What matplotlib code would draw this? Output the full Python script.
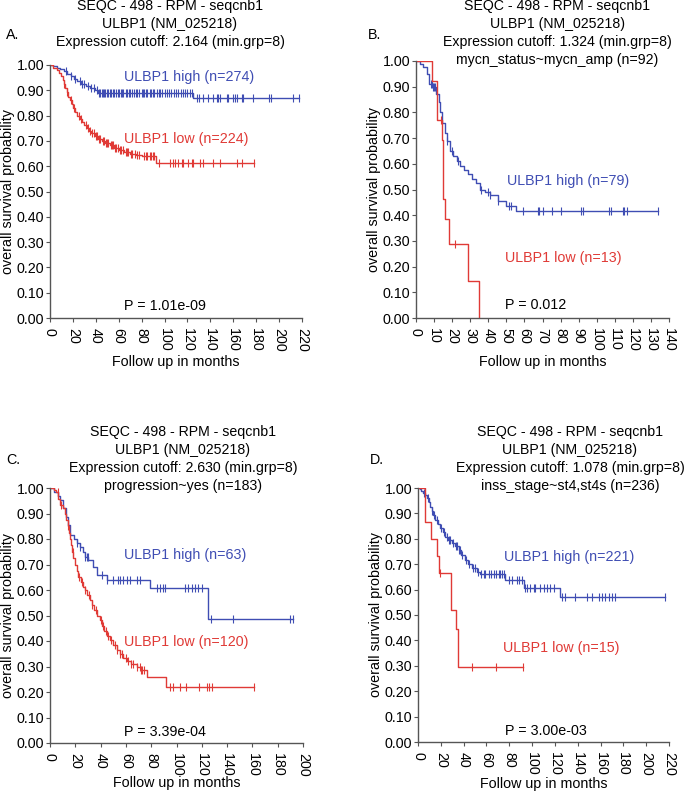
import numpy as np
import matplotlib
matplotlib.use("Agg")
import matplotlib.pyplot as plt

plt.rcParams['font.family'] = ['Liberation Sans', 'DejaVu Sans']

BLUE = '#3f4db3'
RED = '#e03a36'

# ---------------- panel A ----------------
a_hi_t = [3, 6, 9, 12, 15, 18, 21, 24, 27, 31, 35, 39, 42, 125]
a_hi_s = [0.995, 0.99, 0.983, 0.975, 0.965, 0.955, 0.945, 0.935, 0.925, 0.918, 0.91, 0.90, 0.888, 0.868]
a_hi_c = [14, 18, 22, 26, 28, 30, 33, 36, 38, 41, 43, 44, 45, 46, 47, 48, 50, 51, 52, 53,
          55, 56, 58, 59, 60, 62, 63, 64, 66, 67, 69, 70, 72, 73, 75, 76, 78, 80, 81, 82,
          84, 85, 87, 88, 90, 91, 93, 95, 96, 98, 100, 102, 104, 106, 108, 110, 112, 114,
          116, 118, 120, 122, 124, 128, 130, 133.8, 138.2, 142.5, 145.4, 146.9, 148.3,
          154.2, 155.6, 160, 161.4, 162.9, 167.3, 168.7, 177.4, 191.4, 192.8, 212.3, 217.3]
a_lo_t = [3, 6, 8, 10, 11, 12, 13, 14.5, 16, 17.5, 19, 20.5, 22, 24, 26, 28, 30, 32, 34, 36,
          39, 42, 45, 48, 52, 56, 60, 65, 70, 75, 80, 92.5]
a_lo_s = [0.99, 0.98, 0.97, 0.955, 0.94, 0.925, 0.91, 0.895, 0.875, 0.86, 0.845, 0.83, 0.815,
          0.80, 0.785, 0.775, 0.762, 0.75, 0.74, 0.73, 0.718, 0.708, 0.70, 0.69, 0.682, 0.672,
          0.665, 0.658, 0.65, 0.645, 0.64, 0.611]
a_lo_c = [12, 15, 18, 21, 25, 27, 31, 33, 35, 37, 38, 40, 41, 43, 44, 46, 47, 49, 50, 51, 53,
          54, 55, 57, 58, 59, 61, 62, 64, 66, 67, 68, 71, 72, 74, 76, 78, 82, 84, 85, 87, 88,
          90, 91, 95.4, 104.7, 107.6, 109.1, 112, 114.9, 116.3, 120.7, 123.6, 125.1, 130.9,
          133.8, 142.5, 148.3, 162.9, 167.3, 178.3]

# ---------------- panel B ----------------
b_hi_t = [2, 4, 6, 7, 9.5, 11, 12.5, 13.5, 14.5, 16, 17, 18.8, 20.5, 22.5, 24.5, 26.5, 29,
          31, 33, 35.5, 38, 41, 45.5, 50, 55.5]
b_hi_s = [0.987, 0.975, 0.95, 0.91, 0.90, 0.87, 0.84, 0.80, 0.76, 0.72, 0.69, 0.65, 0.63,
          0.61, 0.59, 0.575, 0.56, 0.54, 0.525, 0.50, 0.49, 0.478, 0.456, 0.436, 0.416]
b_hi_c = [8.5, 9, 9.5, 10, 10.5, 17, 20, 23, 35.8, 40, 41, 45.5, 51.3, 52.8, 59.4, 67.3, 68.3,
          70.1, 75.1, 80.1, 91.1, 92.2, 106.8, 107.9, 114.4, 115.3, 116.6, 134.1]
b_lo_t = [8.8, 11.8, 14.2, 15.2, 16.3, 18.1, 28.6, 34.7]
b_lo_s = [0.923, 0.769, 0.692, 0.462, 0.385, 0.288, 0.144, 0.0]
b_lo_c = [14.0, 21.4]

# ---------------- panel C ----------------
c_hi_t = [3, 6.5, 8, 10.5, 13, 14.5, 15.8, 19, 21, 23.7, 26, 27.7, 30.3, 34, 36.9, 44.8, 79, 125]
c_hi_s = [0.984, 0.968, 0.952, 0.92, 0.888, 0.856, 0.816, 0.80, 0.783, 0.77, 0.75, 0.73,
          0.718, 0.69, 0.659, 0.639, 0.606, 0.487]
c_hi_c = [21.5, 24, 28, 29, 30, 41, 45, 50, 54, 55.3, 58, 60.6, 63.2, 68.5, 71.2, 84.3, 87,
          89.6, 90.9, 106.7, 109.4, 112, 114.6, 117.3, 119.9, 127.5, 144.9, 189.7, 191.8]
c_lo_t = [3, 5, 6.5, 7.6, 10.3, 11.5, 12.9, 14, 15, 15.5, 16.5, 17.5, 18.5, 19.5, 21, 22.5,
          24.5, 26, 27.4, 29, 31.6, 33, 35, 37, 39.5, 41.5, 43, 45, 47.4, 50, 52.7, 55, 57.5,
          60.6, 64, 68.5, 72, 76.4, 91.7]
c_lo_s = [0.992, 0.983, 0.958, 0.933, 0.92, 0.90, 0.875, 0.85, 0.825, 0.80, 0.775, 0.75,
          0.725, 0.70, 0.675, 0.65, 0.63, 0.61, 0.60, 0.58, 0.56, 0.54, 0.52, 0.50, 0.482,
          0.46, 0.44, 0.42, 0.404, 0.385, 0.365, 0.35, 0.335, 0.32, 0.31, 0.30, 0.285, 0.26,
          0.218]
c_lo_c = [6, 9, 14, 18, 23, 25, 28, 31, 33, 36, 40, 42, 44, 46, 48, 51, 53, 55, 57, 60, 62,
          64, 66, 69, 71, 72, 73, 74, 94.9, 97, 102.8, 107.5, 117.8, 124.3, 125.7, 128.3, 161.5]

# ---------------- panel D ----------------
d_hi_t = [1.5, 3, 4.5, 6.4, 8, 9.5, 10.8, 12, 13.5, 15.2, 17.5, 19.6, 22, 23.9, 26, 29.8, 32,
          35.6, 38, 41.5, 44, 47.3, 51.7, 54.6, 76.5, 92.6, 124.7]
d_hi_s = [0.995, 0.99, 0.982, 0.972, 0.96, 0.945, 0.926, 0.91, 0.893, 0.874, 0.858, 0.841,
          0.825, 0.808, 0.795, 0.782, 0.77, 0.756, 0.735, 0.717, 0.70, 0.684, 0.67, 0.662,
          0.638, 0.605, 0.572]
d_hi_c = [5, 9, 12, 14, 17, 20, 23, 25, 27, 28, 31, 33, 34, 36, 37, 39, 42, 45, 48, 50, 53,
          55.5, 57.5, 59, 61.9, 64.3, 66.3, 68.4, 70.7, 72.2, 73.6, 75.1, 79.5, 82.4, 86.8,
          88.2, 91.1, 94.1, 95.5, 98.5, 101.4, 102.8, 107.2, 110.1, 113.1, 116, 118.9, 126.2,
          129.1, 137.9, 148.1, 152.5, 158.3, 161.3, 164.2, 167.1, 170, 172.9, 216.2]
d_lo_t = [5.8, 11.7, 16.7, 18.1, 29.2, 33.6, 35.1]
d_lo_s = [0.867, 0.80, 0.733, 0.667, 0.519, 0.445, 0.297]
d_lo_c = [19.5, 47.3, 68.6, 92]

panels = [
    dict(label='A.', rect=(50, 65, 302, 318), xmax=220, xstep=20, xlab_y=362,
         title=['SEQC - 498 - RPM - seqcnb1', 'ULBP1 (NM_025218)',
                'Expression cutoff: 2.164 (min.grp=8)'],
         hi=(a_hi_t, a_hi_s, a_hi_c), lo=(a_lo_t, a_lo_s, a_lo_c),
         hi_txt=('ULBP1 high (n=274)', 64.6, 0.953), lo_txt=('ULBP1 low (n=224)', 64.6, 0.708),
         p_txt=('P = 1.01e-09', 64.6, 0.047), title_x=170, title_y=6, label_xy=(13, 35)),
    dict(label='B.', rect=(416, 61, 669, 318), xmax=140, xstep=10, xlab_y=362,
         title=['SEQC - 498 - RPM - seqcnb1', 'ULBP1 (NM_025218)',
                'Expression cutoff: 1.324 (min.grp=8)', 'mycn_status~mycn_amp (n=92)'],
         hi=(b_hi_t, b_hi_s, b_hi_c), lo=(b_lo_t, b_lo_s, b_lo_c),
         hi_txt=('ULBP1 high (n=79)', 50.4, 0.533), lo_txt=('ULBP1 low (n=13)', 49.4, 0.232),
         p_txt=('P = 0.012', 49.4, 0.05), title_x=557, title_y=6, label_xy=(375, 35)),
    dict(label='C.', rect=(50, 488, 303, 743), xmax=200, xstep=20, xlab_y=783,
         title=['SEQC - 498 - RPM - seqcnb1', 'ULBP1 (NM_025218)',
                'Expression cutoff: 2.630 (min.grp=8)', 'progression~yes (n=183)'],
         hi=(c_hi_t, c_hi_s, c_hi_c), lo=(c_lo_t, c_lo_s, c_lo_c),
         hi_txt=('ULBP1 high (n=63)', 58.5, 0.737), lo_txt=('ULBP1 low (n=120)', 58.5, 0.397),
         p_txt=('P = 3.39e-04', 58.5, 0.044), title_x=183, title_y=432, label_xy=(13, 460)),
    dict(label='D.', rect=(418, 488, 669, 742), xmax=220, xstep=20, xlab_y=784,
         title=['SEQC - 498 - RPM - seqcnb1', 'ULBP1 (NM_025218)',
                'Expression cutoff: 1.078 (min.grp=8)', 'inss_stage~st4,st4s (n=236)'],
         hi=(d_hi_t, d_hi_s, d_hi_c), lo=(d_lo_t, d_lo_s, d_lo_c),
         hi_txt=('ULBP1 high (n=221)', 75.1, 0.727), lo_txt=('ULBP1 low (n=15)', 74.2, 0.371),
         p_txt=('P = 3.00e-03', 76.5, 0.043), title_x=570, title_y=432, label_xy=(377, 460)),
]

W, H = 685, 793
fig = plt.figure(figsize=(W / 100, H / 100), dpi=100)


def km_curve(ax, times, surv, cens, color):
    times = np.asarray(times, float)
    surv = np.asarray(surv, float)
    cens = np.asarray(cens, float)
    end = max(times.max(), cens.max() if len(cens) else 0)
    x = np.concatenate([[0], times, [end]])
    y = np.concatenate([[1.0], surv, [surv[-1]]])
    ax.plot(x, y, drawstyle='steps-post', color=color, lw=1.0)
    idx = np.searchsorted(times, cens, side='right')
    cy = np.where(idx == 0, 1.0, surv[np.maximum(idx - 1, 0)])
    ax.plot(cens, cy, ls='none', marker='|', ms=5.5, mew=0.8, color=color)


for p in panels:
    l, t, r, b = p['rect']
    ax = fig.add_axes([l / W, 1 - b / H, (r - l) / W, (b - t) / H])
    km_curve(ax, *p['hi'], BLUE)
    km_curve(ax, *p['lo'], RED)
    ax.set_xlim(0, p['xmax'])
    ax.set_ylim(0, 1.0)
    ax.set_xticks(np.arange(0, p['xmax'] + 1, p['xstep']))
    ax.set_yticks(np.arange(0, 1.01, 0.1))
    ax.set_yticklabels([f'{v:.2f}' for v in np.arange(0, 1.01, 0.1)], fontsize=10.3)
    ax.set_xticklabels([str(v) for v in np.arange(0, p['xmax'] + 1, p['xstep'])],
                       rotation=270, fontsize=10.3)
    for s in ['top', 'right']:
        ax.spines[s].set_visible(False)
    for s in ['left', 'bottom']:
        ax.spines[s].set_color('#555555')
        ax.spines[s].set_linewidth(1.0)
    ax.tick_params(direction='out', length=3, width=0.8, color='#555555')
    ax.tick_params(axis='x', pad=4)
    ax.tick_params(axis='y', pad=1)
    ax.set_xlabel('Follow up in months', fontsize=10.3)
    ax.xaxis.set_label_coords(0.5, -(p['xlab_y'] - b) / (b - t))
    ax.xaxis.label.set_va('center')
    ax.set_ylabel('overall survival probability', fontsize=10.3)
    ax.yaxis.set_label_coords(-42 / (r - l), 0.5)
    ax.yaxis.label.set_va('center')
    ax.patch.set_alpha(0)

    txt, x, y = p['hi_txt']
    ax.text(x, y, txt, color=BLUE, fontsize=10.3, va='center', ha='left')
    txt, x, y = p['lo_txt']
    ax.text(x, y, txt, color=RED, fontsize=10.3, va='center', ha='left')
    txt, x, y = p['p_txt']
    ax.text(x, y, txt, color='black', fontsize=10.3, va='center', ha='left')

    for i, line in enumerate(p['title']):
        fig.text(p['title_x'] / W, 1 - (p['title_y'] + 18 * i) / H, line,
                 fontsize=10.2, ha='center', va='center')
    lx, ly = p['label_xy']
    fig.text(lx / W, 1 - ly / H, p['label'], fontsize=10.3, ha='center', va='center')

fig.savefig('out.png', dpi=100)
